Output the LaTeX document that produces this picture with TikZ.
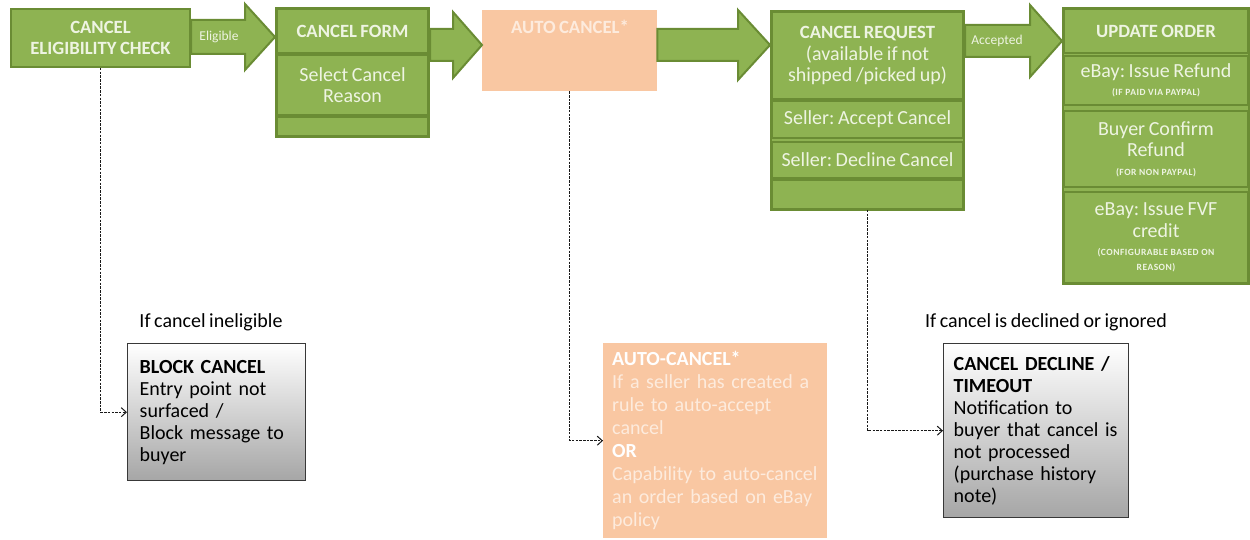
\documentclass[tikz,border=0pt]{standalone}
\usepackage{fontspec}
\setmainfont{Carlito}[WordSpace=0.8]
\newfontfamily\spacedfont{Carlito}[LetterSpace=5]
\usetikzlibrary{arrows.meta,calc}
\definecolor{gfill}{HTML}{8EB352}
\definecolor{gdark}{HTML}{6A8C34}
\definecolor{gtext}{HTML}{EEF4E2}
\definecolor{peach}{HTML}{F9C7A2}
\definecolor{ptext}{HTML}{FDEBDD}
\definecolor{gbord}{HTML}{383838}
\tikzset{
 sec/.style={draw=gdark, line width=2pt, fill=gfill, text=gtext, align=center, anchor=north west, inner sep=2pt, font=\fontsize{20}{21.5}\selectfont},
 hd/.style={font=\bfseries\fontsize{18.7}{21.5}\selectfont},
 cont/.style={draw=gdark, line width=2pt, fill=gfill, anchor=north west, inner sep=0pt},
 barrow/.style={draw=gdark, line width=2pt, fill=gfill, line join=miter},
 alabel/.style={text=gtext, font=\fontsize{13.5}{15}\selectfont},
 peachbox/.style={fill=peach, anchor=north west, inner sep=0pt},
 graybox/.style={draw=gbord, line width=1.4pt, top color=white, bottom color=black!35, anchor=north west, align=left, inner ysep=4pt, text=black, font=\fontsize{20}{22}\selectfont},
 dconn/.style={draw=black!90, line width=1pt, dash pattern=on 2.5pt off 1.2pt, -{Straight Barb[length=5pt,width=9pt]}},
 note/.style={text=black, font=\fontsize{20}{22}\selectfont},
}
\newcommand{\smallcap}[1]{{\spacedfont\bfseries\fontsize{9.5}{10}\selectfont #1}}
\begin{document}
\frenchspacing
\begin{tikzpicture}[x=1pt,y=-1pt]
\useasboundingbox[fill=white] (0,0) rectangle (1250,540);

% --- box 1
\node[sec, hd, minimum width=179pt, minimum height=58pt] (b1) at (10,8) {CANCEL\\ELIGIBILITY CHECK};

% --- box 2 cancel form
\node[cont, minimum width=153pt, minimum height=129pt] (b2) at (275,7) {};
\node[sec, hd, minimum width=151pt, minimum height=44pt] (b2h) at (276,8) {CANCEL FORM};
\node[sec, minimum width=151pt, minimum height=60pt] (b2m) at (276,54) {Select Cancel\\Reason};
\node[sec, minimum width=151pt, minimum height=19pt] (b2f) at (276,116) {};

% --- auto cancel
\node[peachbox, minimum width=175pt, minimum height=81pt] (ac) at (482,10) {};
\node[text=ptext, font=\bfseries\fontsize{18.7}{21}\selectfont] (act) at (570,27) {AUTO CANCEL*};

% --- cancel request
\node[cont, minimum width=193pt, minimum height=199pt] (cr) at (770,10) {};
\node[sec, minimum width=191pt, minimum height=87pt] (crh) at (771,11) {{\bfseries\fontsize{18.7}{21.5}\selectfont CANCEL REQUEST}\\(available if not\\shipped /picked up)};
\node[sec, minimum width=191pt, minimum height=37pt] (cra) at (771,100) {Seller: Accept Cancel};
\node[sec, minimum width=191pt, minimum height=36pt] (crd) at (771,141) {Seller: Decline Cancel};
\node[sec, minimum width=191pt, minimum height=29pt] (crf) at (771,179) {};

% --- update order
\node[cont, minimum width=186pt, minimum height=276pt] (uo) at (1062,7) {};
\node[sec, hd, minimum width=184pt, minimum height=44pt] (uoh) at (1063,8) {UPDATE ORDER};
\node[sec, minimum width=184pt, minimum height=49pt] (uo1) at (1063,55) {eBay: Issue Refund\\[-4pt]\smallcap{(IF PAID VIA PAYPAL)}};
\node[sec, minimum width=184pt, minimum height=76pt] (uo2) at (1063,110) {Buyer Confirm\\Refund\\[-3pt]\smallcap{(FOR NON PAYPAL)}};
\node[sec, minimum width=184pt, minimum height=91pt] (uo3) at (1063,191) {eBay: Issue FVF\\credit\\[-3pt]\smallcap{(CONFIGURABLE BASED ON}\\[-7pt]\smallcap{REASON)}};

% --- block arrows
\draw[barrow] (b1.east |- 0,20) -- (245,20) -- (245,4) -- (b2.west |- 0,37) -- (245,70) -- (245,54) -- (b1.east |- 0,54) -- cycle;
\node[alabel] (l1) at (219,37) {Eligible};
\draw[barrow] (b2.east |- 0,29) -- (453,29) -- (453,12) -- (ac.west |- 0,45) -- (453,78) -- (453,61) -- (b2.east |- 0,61) -- cycle;
\draw[barrow] (ac.east |- 0,29) -- (738,29) -- (738,10) -- (cr.west |- 0,45) -- (738,80) -- (738,61) -- (ac.east |- 0,61) -- cycle;
\draw[barrow] (cr.east |- 0,25) -- (1030,25) -- (1030,5) -- (uo.west |- 0,41) -- (1030,77) -- (1030,57) -- (cr.east |- 0,57) -- cycle;
\node[alabel] (l2) at (997,41) {Accepted};

% --- lower boxes
\node[note] (n1) at (211,322) {If cancel ineligible};
\node[graybox, inner xsep=12pt, text width=154pt, minimum height=137pt] (blk) at (127,343) {\textbf{BLOCK CANCEL}\\Entry point not\\surfaced /\\Block message to\\buyer};

\node[peachbox, inner xsep=9pt, text width=206pt, minimum height=195pt, align=left, text=ptext, font=\fontsize{20}{23}\selectfont] (ac2) at (603,343) {\textcolor{white}{\textbf{AUTO-CANCEL*}}\\If a seller has created a\\rule to auto-accept\\cancel\\\textcolor{white}{\textbf{OR}}\\Capability to auto-cancel\\an order based on eBay\\policy};

\node[note] (n2) at (1046,322) {If cancel is declined or ignored};
\node[graybox, inner xsep=10pt, text width=165pt, minimum height=174pt] (cd) at (943,343) {\textbf{CANCEL DECLINE /}\\\textbf{TIMEOUT}\\Notification to\\buyer that cancel is\\not processed\\(purchase history\\note)};

% --- dashed connectors
\draw[dconn] (b1.south) |- (blk.west);
\draw[dconn] (ac.south) |- (ac2.west);
\draw[dconn] (crf.south) |- (cd.west);
\end{tikzpicture}
\end{document}
